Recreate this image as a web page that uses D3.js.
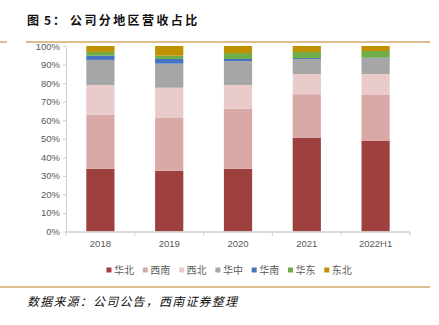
<!DOCTYPE html>
<html><head><meta charset="utf-8">
<script src="https://cdn.jsdelivr.net/npm/d3@7"></script>
<style>body{margin:0;background:#fff;}svg{display:block;}</style>
</head><body>
<svg id="c" width="439" height="325"></svg>
<script>
const categories = ["2018","2019","2020","2021","2022H1"];
const seriesNames = ["华北","西南","西北","华中","华南","华东","东北"];
const huabei  = [33.8, 32.7, 33.8, 50.6, 48.8];
const xinan   = [29.2, 28.5, 32.4, 23.4, 24.8];
const xibei   = [16.0, 16.3, 12.8, 10.9, 11.3];
const huazhong= [13.5, 13.0, 12.9,  8.1,  8.6];
const huanan  = [ 2.3,  2.5,  1.1,  0.5,  0.2];
const huadong = [ 2.0,  1.8,  3.2,  3.3,  3.6];
const dongbei = [ 3.2,  5.2,  3.8,  3.2,  2.7];
const yTicks = [0,10,20,30,40,50,60,70,80,90,100];
const colors = ["#9e413e","#d9a9a8","#e8cbca","#a6a6a6","#4472c4","#70ad47","#bf9000"];

const seriesValues = [huabei, xinan, xibei, huazhong, huanan, huadong, dongbei];
const rows = categories.map((c,i)=>{const o={cat:c}; seriesNames.forEach((s,j)=>o[s]=seriesValues[j][i]); return o;});
const stack = d3.stack().keys(seriesNames)(rows);

const svg = d3.select("#c");
const x = d3.scaleBand().domain(categories).range([66,410]).paddingInner(0.59).paddingOuter(0.295);
const y = d3.scaleLinear().domain([0,100]).range([231.5,46]);

// title
const title = svg.append("text").attr("x",27).attr("y",25).attr("font-family","Noto Sans CJK SC").attr("font-weight","bold")
  .attr("font-size",12).attr("fill","#111");
title.append("tspan").text("图");
title.append("tspan").attr("x",44).attr("letter-spacing","2").text("5：");
title.append("tspan").attr("x",70).attr("letter-spacing","2.4").text("公司分地区营收占比");
svg.append("line").attr("x1",0).attr("x2",7).attr("y1",42).attr("y2",42).attr("stroke","#d6a76c").attr("stroke-width",1.5);
svg.append("line").attr("x1",26).attr("x2",430).attr("y1",42).attr("y2",42).attr("stroke","#d6a76c").attr("stroke-width",1.5);

// bars
svg.append("g").selectAll("g").data(stack).join("g").attr("fill",(d,i)=>colors[i])
  .selectAll("rect").data(d=>d).join("rect")
  .attr("x",d=>x(d.data.cat)).attr("width",x.bandwidth())
  .attr("y",d=>y(d[1])).attr("height",d=>Math.max(0,y(d[0])-y(d[1])));

// y axis
const ya = svg.append("g").attr("transform","translate(66,0)")
  .call(d3.axisLeft(y).tickValues(yTicks).tickFormat(d=>d+"%").tickSize(3).tickSizeOuter(0));
ya.select(".domain").attr("stroke","#d0d0d0");
ya.selectAll(".tick line").attr("stroke","#d0d0d0");
ya.selectAll("text").attr("fill","#595959").attr("font-family","Liberation Sans, Arial").attr("font-size",9.5).attr("x",-6);

// x axis
const xa = svg.append("g").attr("transform","translate(0,231.5)")
  .call(d3.axisBottom(x).tickSize(0));
xa.select(".domain").remove();
svg.append("line").attr("x1",66).attr("x2",410).attr("y1",232).attr("y2",232).attr("stroke","#d0d0d0").attr("stroke-width",1.5);
const bounds = [66].concat(categories.map(c=>x(c)+x.bandwidth()+x.step()*0.295));
bounds.forEach(b=>svg.append("line").attr("x1",b).attr("x2",b).attr("y1",232).attr("y2",236).attr("stroke","#d0d0d0"));
xa.selectAll("text").attr("fill","#595959").attr("font-family","Liberation Sans, Arial").attr("font-size",9.5).attr("dy","1.3em");

// legend
let lx = 106.5;
seriesNames.forEach((s,i)=>{
  const g = svg.append("g").attr("transform",`translate(${lx},270)`);
  g.append("rect").attr("x",0).attr("y",-2.5).attr("width",5).attr("height",5).attr("fill",colors[i]);
  g.append("text").attr("x",7.5).attr("y",3.6).attr("font-family","Noto Sans CJK SC").attr("font-size",10).attr("fill","#595959").text(s);
  lx += 36.3;
});

// bottom line & source
svg.append("line").attr("x1",0).attr("x2",430).attr("y1",287).attr("y2",287).attr("stroke","#d6a76c").attr("stroke-width",1.5);
svg.append("text").attr("x",27).attr("y",306).attr("font-family","Noto Sans CJK SC").attr("font-style","italic")
  .attr("font-size",12).attr("fill","#111").attr("letter-spacing","1.2").text("数据来源：公司公告，西南证券整理");
</script>
</body></html>
